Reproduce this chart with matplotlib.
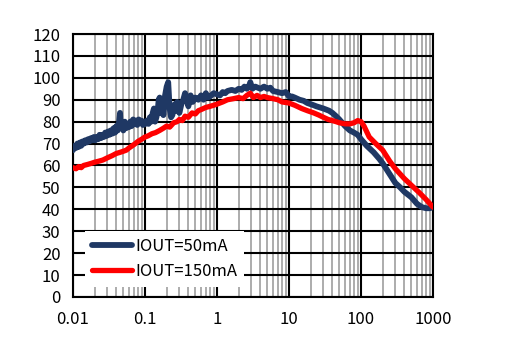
import matplotlib
matplotlib.use("Agg")
import matplotlib.pyplot as plt
from matplotlib.ticker import LogLocator, FixedLocator, NullFormatter

plt.rcParams['font.family'] = ['Noto Sans CJK SC', 'DejaVu Sans']

blue_f = [0.0100, 0.0105, 0.0110, 0.0115, 0.0120, 0.0125, 0.0130, 0.0136, 0.0142, 0.0148,
          0.0155, 0.0162, 0.0170, 0.0178, 0.0186, 0.0195, 0.0204, 0.0214, 0.0224, 0.0234,
          0.0245, 0.0256, 0.0268, 0.0280, 0.0293, 0.0306, 0.0320, 0.0335, 0.0350, 0.0366,
          0.0383, 0.0400, 0.0418, 0.0437, 0.0450, 0.0462, 0.0480, 0.0500, 0.0523, 0.0547,
          0.0572, 0.0598, 0.0625, 0.0654, 0.0684, 0.0715, 0.0748, 0.0782, 0.0818, 0.0855,
          0.0894, 0.0935, 0.0978, 0.102, 0.107, 0.112, 0.117, 0.122, 0.128, 0.133,
          0.138, 0.144, 0.150, 0.155, 0.160, 0.165, 0.170, 0.180, 0.190, 0.200,
          0.210, 0.220, 0.230, 0.240, 0.250, 0.260, 0.270, 0.280, 0.300, 0.320,
          0.340, 0.360, 0.380, 0.400, 0.430, 0.460, 0.500, 0.550, 0.600, 0.650,
          0.700, 0.750, 0.800, 0.900, 1.0, 1.1, 1.2, 1.3, 1.4, 1.6,
          1.8, 2.0, 2.2, 2.4, 2.6, 2.8, 2.9, 3.1, 3.4, 3.7,
          4.0, 4.5, 5.0, 5.5, 6.0, 7.0, 8.0, 9.0, 10, 11,
          12, 14, 16, 18, 20, 22, 24, 27, 30, 33,
          36, 40, 45, 50, 60, 70, 80, 90, 100, 120,
          150, 180, 200, 250, 300, 350, 400, 500, 600, 700,
          800, 900, 1000]
blue_v = [67, 69, 68, 70, 68.5, 70.5, 69, 71, 70, 71.5,
          70.5, 72, 71, 72.5, 71.5, 73, 71.5, 73, 72, 74,
          72.5, 74, 73, 75, 73.5, 75.5, 74, 76, 74.5, 77,
          75, 78, 76, 80, 84, 77, 79, 76, 80, 77,
          79, 77.5, 80, 78, 81, 79, 80.5, 78.5, 81, 79.5,
          80.5, 78.5, 80, 79, 80.5, 79, 82, 80, 84, 86,
          80, 82, 85, 90, 91, 84, 88, 83, 92, 96,
          98, 86, 82, 83, 86, 88, 85, 89, 84, 88,
          90, 93, 90, 87, 92, 89, 91, 90, 92, 90,
          93, 91, 91.5, 93, 92.5, 92, 93.5, 93, 94, 94.5,
          94, 95, 94.5, 96, 95, 96.5, 98, 95, 96, 95.5,
          95, 96, 95, 95.5, 94, 93.5, 93, 93.5, 91.5, 91.5,
          91, 90, 89.5, 88.5, 88, 87.5, 87, 86.5, 86, 85.5,
          85, 84, 82.5, 81, 78, 76, 75, 74, 72, 69,
          66, 63, 61, 56, 52, 50, 48, 45.5, 42.5, 41,
          40.5, 40.5, 41]

red_f = [0.010, 0.011, 0.012, 0.013, 0.014, 0.016, 0.018, 0.020, 0.023, 0.026,
         0.030, 0.035, 0.040, 0.045, 0.050, 0.055, 0.060, 0.070, 0.080, 0.090,
         0.100, 0.110, 0.125, 0.140, 0.160, 0.180, 0.200, 0.220, 0.250, 0.280,
         0.300, 0.330, 0.360, 0.400, 0.450, 0.500, 0.550, 0.600, 0.700, 0.800,
         0.900, 1.0, 1.2, 1.4, 1.7, 2.0, 2.3, 2.6, 2.9, 3.2,
         3.6, 4.0, 4.5, 5.0, 6.0, 7.0, 8.0, 10, 12, 15,
         18, 22, 26, 30, 35, 40, 45, 50, 60, 70,
         80, 90, 100, 110, 130, 160, 200, 250, 300, 400,
         500, 650, 800, 1000]
red_v = [59, 58.5, 59.5, 59, 60, 60.5, 61, 61.5, 62, 62.5,
         63.5, 64.5, 65.5, 66, 66.5, 67, 68, 69.5, 71, 72,
         73, 73.5, 74.5, 75, 76, 77, 78, 77.5, 79.5, 80,
         81, 80.5, 82.5, 82, 84, 83.5, 85, 85.5, 86.5, 87,
         87.5, 88, 89, 90, 90.5, 91, 90.5, 92, 93, 91,
         92, 91, 91.5, 91, 90.5, 90, 89, 88.5, 87.5, 86,
         85, 84, 83, 82, 81, 80.5, 80, 79.5, 79, 79,
         79.5, 80.5, 80, 78, 73, 70, 67, 62, 58.5, 54,
         51, 47.5, 44.5, 41]

x_ticks = [0.01, 0.1, 1, 10, 100, 1000]
x_labels = ['0.01', '0.1', '1', '10', '100', '1000']
y_ticks = list(range(0, 121, 10))
labels = ['IOUT=50mA', 'IOUT=150mA']

fig = plt.figure(figsize=(5.08, 3.40), dpi=100)
ax = fig.add_axes([0.1437, 0.1265, 0.7087, 0.7735])

ax.set_xscale('log')
ax.set_xlim(0.01, 1000)
ax.set_ylim(0, 120)
ax.xaxis.set_major_locator(FixedLocator(x_ticks))
ax.set_xticklabels(x_labels)
ax.xaxis.set_minor_locator(LogLocator(base=10, subs=range(2, 10), numticks=20))
ax.xaxis.set_minor_formatter(NullFormatter())
ax.set_yticks(y_ticks)

ax.grid(which='minor', axis='x', color='#a6a6a6', linewidth=1.3, zorder=1)
ax.grid(which='major', axis='both', color='black', linewidth=1.5, zorder=1.5)
ax.set_axisbelow(True)

ax.plot(blue_f, blue_v, color='#1f3864', linewidth=4.2, label=labels[0], zorder=3,
        solid_joinstyle='round', solid_capstyle='round')
ax.plot(red_f, red_v, color='#ff0000', linewidth=3.8, label=labels[1], zorder=4,
        solid_joinstyle='round', solid_capstyle='round')

for s in ax.spines.values():
    s.set_color('black')
    s.set_linewidth(1.5)

ax.tick_params(which='both', length=0, labelsize=12, colors='black')
ax.tick_params(axis='x', pad=10)
ax.tick_params(axis='y', pad=9)

leg = ax.legend(loc='lower left', bbox_to_anchor=(0.033, 0.038), borderaxespad=0,
                frameon=True, fancybox=False, framealpha=1, edgecolor='none',
                facecolor='white', fontsize=12, handlelength=2.4,
                handletextpad=0.25, labelspacing=0.5, borderpad=0.4)
leg.set_zorder(10)

fig.savefig('out.png', dpi=100)
